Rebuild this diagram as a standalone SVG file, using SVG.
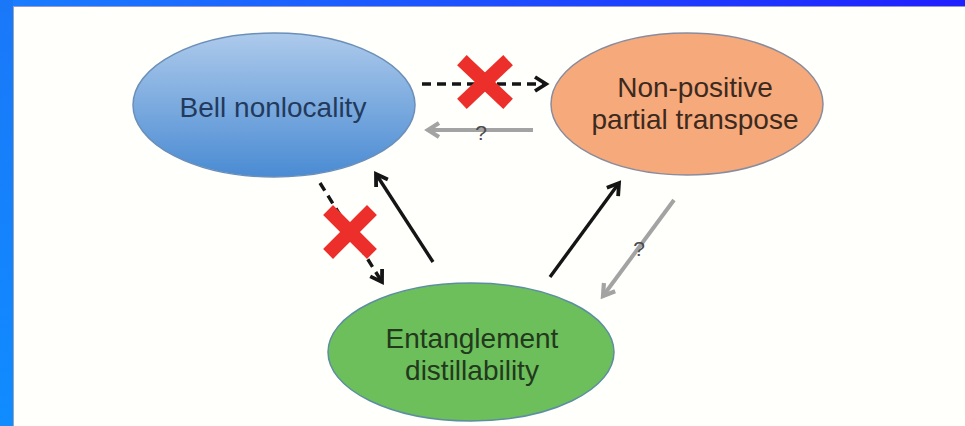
<svg xmlns="http://www.w3.org/2000/svg" width="965" height="426" viewBox="0 0 965 426">
<style>
  .lbl { font-family: "Liberation Sans", Arial, sans-serif; font-size: 28px; text-anchor: middle; }
  .q { font-family: "Liberation Sans", Arial, sans-serif; font-size: 21px; fill: #4a4a4a; text-anchor: middle; }
  .blk { stroke: #151515; stroke-width: 3.4; fill: none; }
  .dash { stroke: #151515; stroke-width: 3.4; fill: none; stroke-dasharray: 9 6; }
  .gry { stroke: #a3a3a3; stroke-width: 4; fill: none; }
  .cross { stroke: #ec2f2a; stroke-width: 14; stroke-linecap: square; stroke-linejoin: round; }
</style>
<defs>
  <linearGradient id="bar" x1="0" y1="0" x2="1" y2="0">
    <stop offset="0" stop-color="#1a7eff"/>
    <stop offset="1" stop-color="#2020ff"/>
  </linearGradient>
  <linearGradient id="side" x1="0" y1="0" x2="0" y2="1">
    <stop offset="0" stop-color="#1a78f8"/>
    <stop offset="1" stop-color="#108cff"/>
  </linearGradient>
  <linearGradient id="blueFill" x1="0" y1="0" x2="0" y2="1">
    <stop offset="0" stop-color="#adcaeb"/>
    <stop offset="1" stop-color="#4a8bd3"/>
  </linearGradient>
  <marker id="ahB" markerUnits="userSpaceOnUse" viewBox="0 0 20 18" markerWidth="20" markerHeight="18" refX="15" refY="9" orient="auto">
    <path d="M4,2 L15,9 L4,16" fill="none" stroke="#151515" stroke-width="3.8" stroke-dasharray="none"/>
  </marker>
  <marker id="ahG" markerUnits="userSpaceOnUse" viewBox="0 0 20 18" markerWidth="20" markerHeight="18" refX="15" refY="9" orient="auto">
    <path d="M4,2 L15,9 L4,16" fill="none" stroke="#a3a3a3" stroke-width="4.2"/>
  </marker>
</defs>

<rect x="0" y="0" width="965" height="426" fill="#fffffc"/>
<rect x="0" y="0" width="965" height="6" fill="url(#bar)"/>
<rect x="0" y="0" width="13" height="426" fill="url(#side)"/>
<line x1="13.5" y1="6" x2="13.5" y2="426" stroke="#9aa6b8" stroke-width="1"/>
<line x1="13" y1="6.5" x2="965" y2="6.5" stroke="#9a9ad0" stroke-width="1"/>

<g id="connectors">
  <!-- Bell -> NPT dashed, crossed -->
  <line class="dash" x1="422" y1="84" x2="546" y2="84" marker-end="url(#ahB)"/>
  <!-- NPT -> Bell gray ? -->
  <line class="gry" x1="533" y1="130" x2="428" y2="130" marker-end="url(#ahG)"/>
  <!-- Bell -> Entanglement dashed, crossed -->
  <line class="dash" x1="320" y1="183" x2="382" y2="282" marker-end="url(#ahB)"/>
  <!-- Entanglement -> Bell -->
  <line class="blk" x1="433" y1="262" x2="376" y2="174" marker-end="url(#ahB)"/>
  <!-- Entanglement -> NPT -->
  <line class="blk" x1="550" y1="277" x2="619" y2="183" marker-end="url(#ahB)"/>
  <!-- NPT -> Entanglement gray ? -->
  <line class="gry" x1="674" y1="200" x2="603" y2="296" marker-end="url(#ahG)"/>
  <text class="q" x="481" y="140">?</text>
  <text class="q" x="639" y="256">?</text>
  <g id="cross1">
    <line class="cross" x1="467" y1="65" x2="503" y2="99"/>
    <line class="cross" x1="503" y1="65" x2="467" y2="99"/>
  </g>
  <g id="cross2">
    <line class="cross" x1="333" y1="215" x2="367" y2="249"/>
    <line class="cross" x1="367" y1="215" x2="333" y2="249"/>
  </g>
</g>

<g id="bell">
  <ellipse cx="274" cy="105" rx="141" ry="72" fill="url(#blueFill)" stroke="#6b8fb8" stroke-width="1.5"/>
  <text class="lbl" x="273" y="117" fill="#233a5c">Bell nonlocality</text>
</g>

<g id="npt">
  <ellipse cx="687" cy="104" rx="136" ry="71" fill="#f6a97b" stroke="#8a8c9c" stroke-width="1.5"/>
  <text class="lbl" x="695" y="97" fill="#3d2a1e">Non-positive</text>
  <text class="lbl" x="695" y="129" fill="#3d2a1e">partial transpose</text>
</g>

<g id="distill">
  <ellipse cx="471" cy="352" rx="143" ry="69" fill="#6dbf5b" stroke="#5c8ea0" stroke-width="1.5"/>
  <text class="lbl" x="472" y="348" fill="#22391d">Entanglement</text>
  <text class="lbl" x="472" y="380" fill="#22391d">distillability</text>
</g>
</svg>
